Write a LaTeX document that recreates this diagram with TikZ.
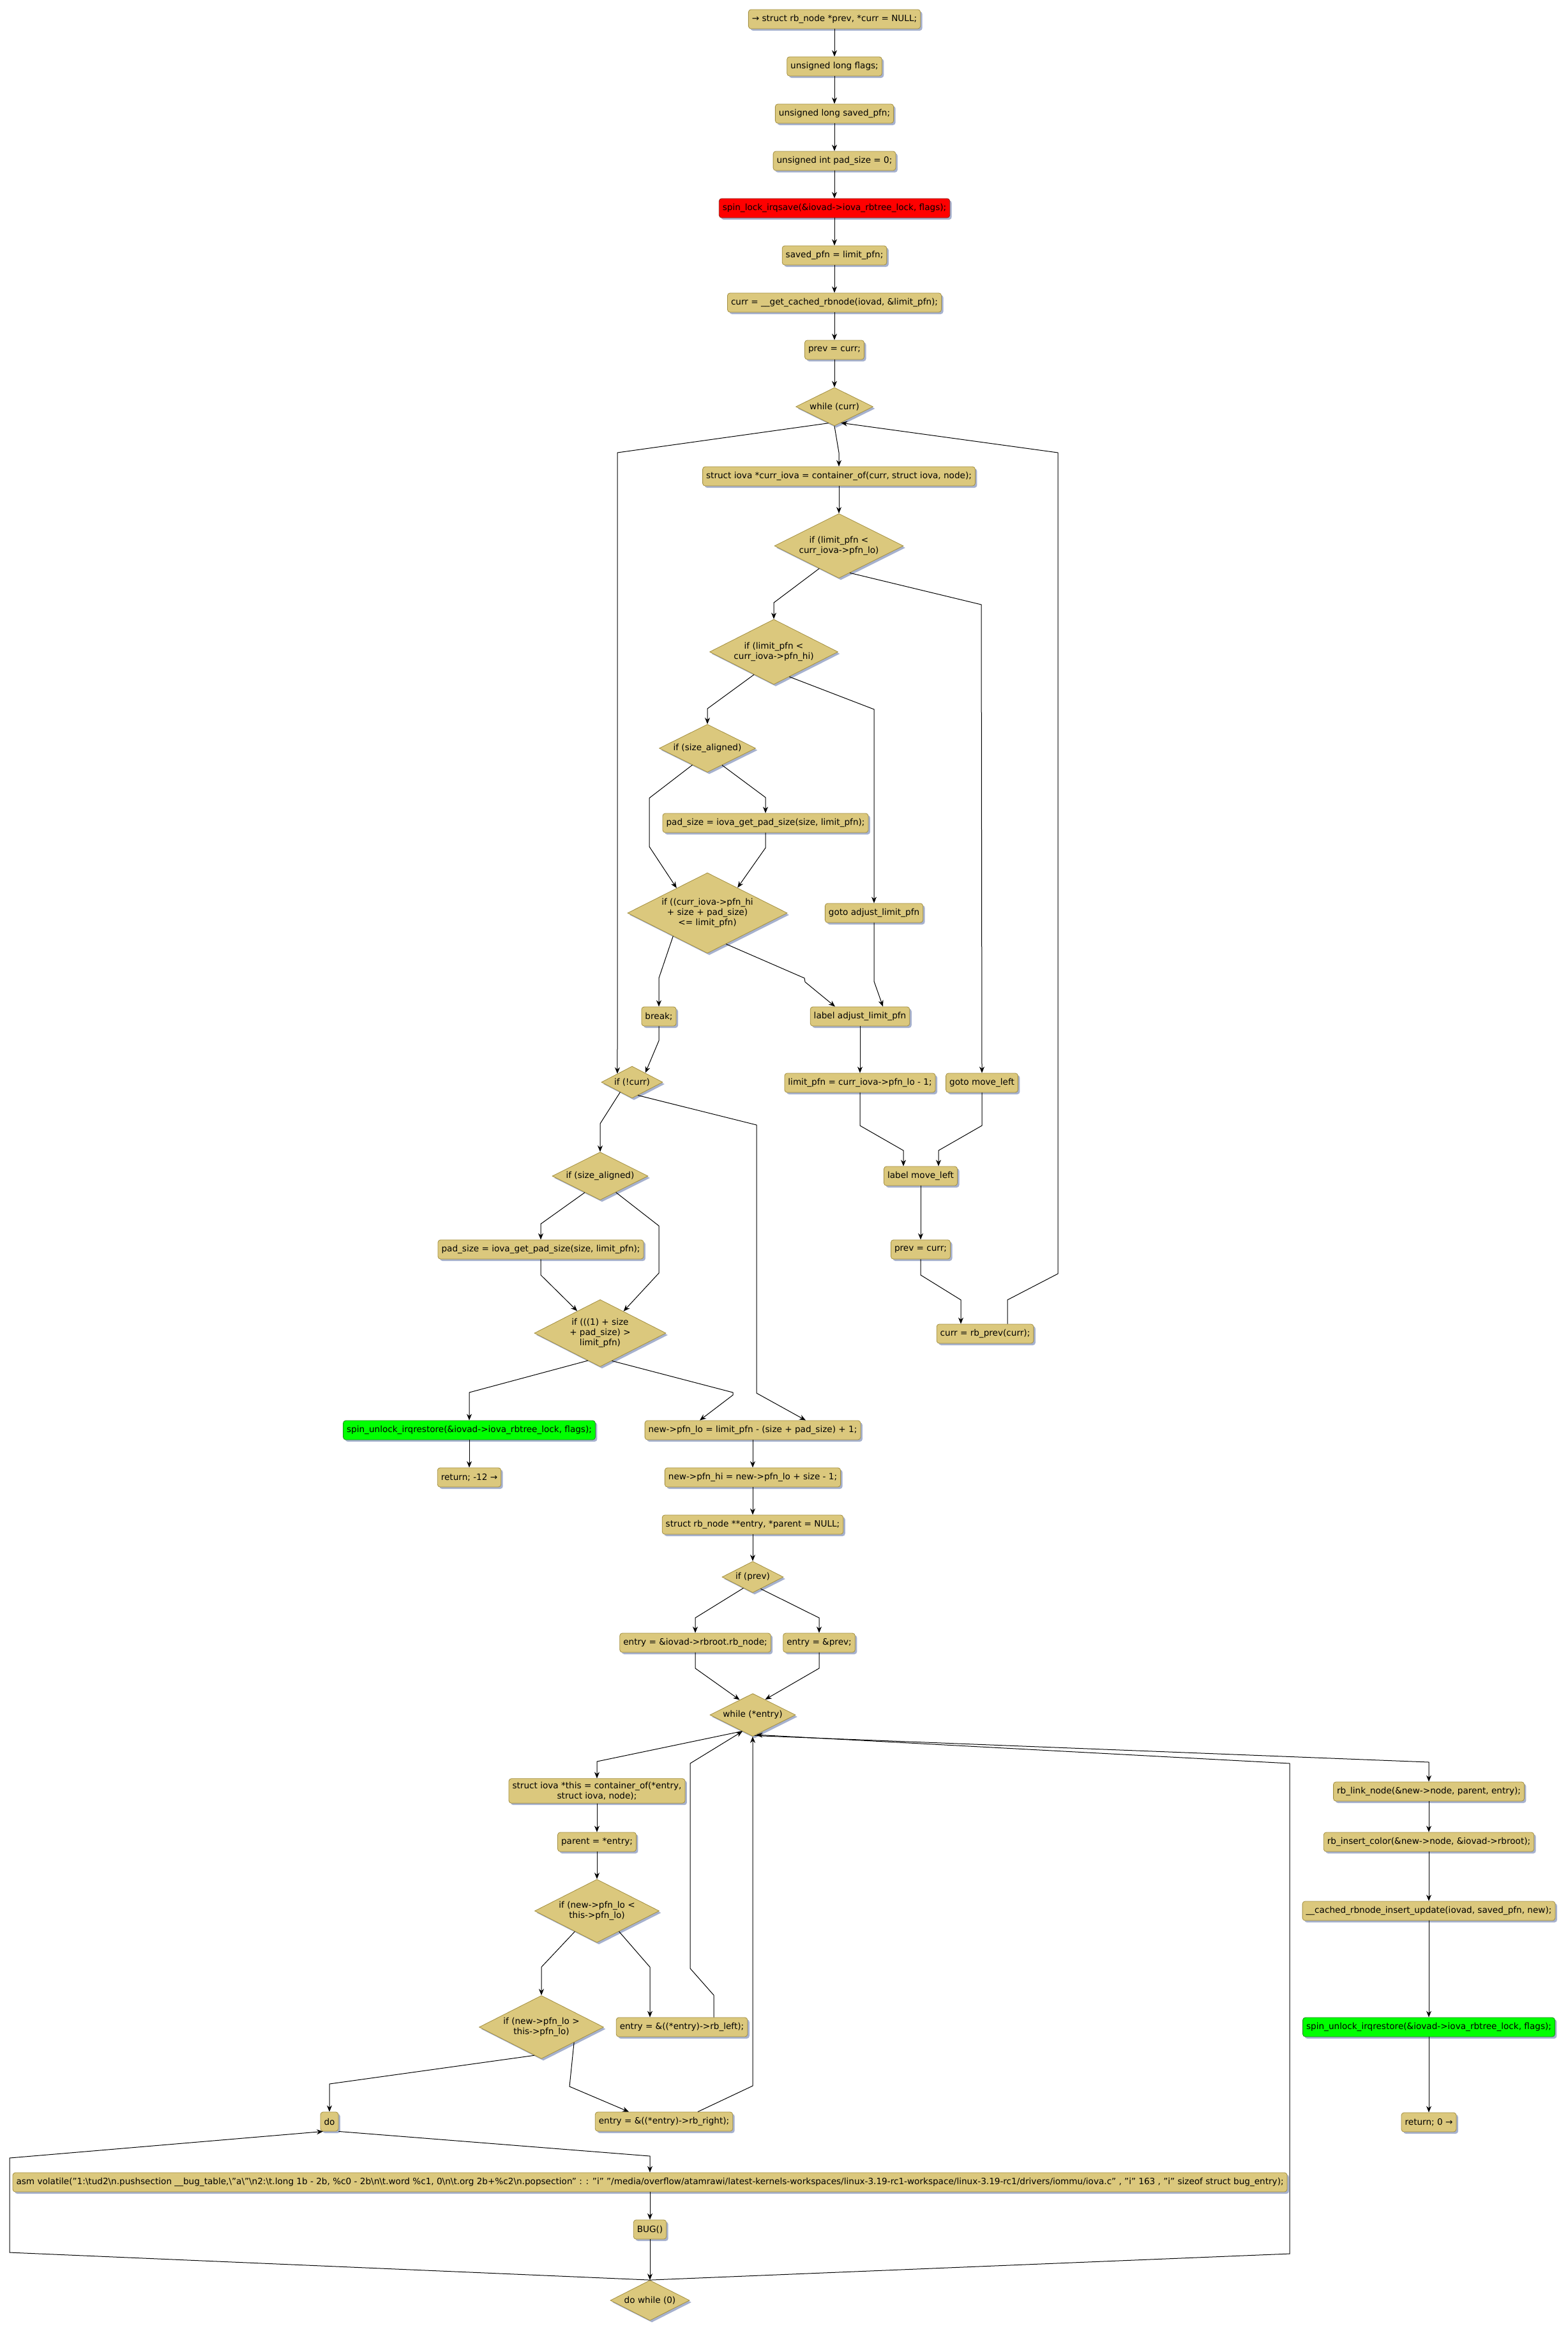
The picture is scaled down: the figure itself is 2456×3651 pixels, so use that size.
\documentclass[tikz,border=0pt]{standalone}
\usepackage{fontspec}
\setmainfont{DejaVu Sans}
\usetikzlibrary{shapes.geometric,arrows.meta,shadows}
\definecolor{boxfill}{RGB}{219,200,125}
\definecolor{boxdraw}{RGB}{163,143,64}
\definecolor{shadowc}{RGB}{166,177,206}
\definecolor{redfill}{RGB}{255,0,0}
\definecolor{reddraw}{RGB}{150,30,20}
\definecolor{greenfill}{RGB}{0,255,0}
\definecolor{greendraw}{RGB}{30,140,30}
\newcommand{\bs}{\textbackslash}
\tikzset{
  shad/.style={drop shadow={shadow xshift=3pt,shadow yshift=-3pt,fill=shadowc,opacity=1}},
  box/.style={rectangle,draw=boxdraw,fill=boxfill,rounded corners=4pt,minimum height=30pt,
    inner xsep=5.5pt,inner ysep=5pt,line width=0.8pt,shad,align=center},
  redbox/.style={box,fill=redfill,draw=reddraw},
  greenbox/.style={box,fill=greenfill,draw=greendraw},
  dia/.style={diamond,draw=boxdraw,fill=boxfill,inner sep=0pt,aspect=2,line width=0.8pt,shad,align=center},
  arr/.style={-{Stealth[length=10pt,width=8pt]},line width=1pt,black},
}
\begin{document}
\begin{tikzpicture}[x=1pt,y=-1pt,font=\fontsize{13.6}{16.3}\selectfont]
\useasboundingbox[fill=white] (0,0) rectangle (2456,3651);

% top chain
\node[box] (n1) at (1307,30) {→ struct rb\_node *prev, *curr = NULL;};
\node[box] (n2) at (1307,104) {unsigned long flags;};
\node[box] (n3) at (1307,178) {unsigned long saved\_pfn;};
\node[box] (n4) at (1307,252) {unsigned int pad\_size = 0;};
\node[redbox] (n5) at (1307,326) {spin\_lock\_irqsave(\&iovad->iova\_rbtree\_lock, flags);};
\node[box] (n6) at (1307,400) {saved\_pfn = limit\_pfn;};
\node[box] (n7) at (1307,474) {curr = \_\_get\_cached\_rbnode(iovad, \&limit\_pfn);};
\node[box] (n8) at (1307,548) {prev = curr;};
\node[dia,minimum width=121pt,minimum height=60pt] (d1) at (1307,637) {while (curr)};
\node[box] (n9) at (1314,746) {struct iova *curr\_iova = container\_of(curr, struct iova, node);};
\node[dia,minimum width=202pt,minimum height=101pt] (d2) at (1314,855) {if (limit\_pfn <\\curr\_iova->pfn\_lo)};
\node[dia,minimum width=201pt,minimum height=102pt] (d3) at (1212,1021) {if (limit\_pfn <\\curr\_iova->pfn\_hi)};
\node[dia,minimum width=151pt,minimum height=75pt] (d4) at (1108,1172) {if (size\_aligned)};
\node[box] (n10) at (1199,1289) {pad\_size = iova\_get\_pad\_size(size, limit\_pfn);};
\node[dia,minimum width=250pt,minimum height=126pt] (d5) at (1108,1430) {if ((curr\_iova->pfn\_hi\\+ size + pad\_size)\\<= limit\_pfn)};
\node[box] (n11) at (1369,1430) {goto adjust\_limit\_pfn};
\node[box] (n12) at (1032,1592) {break;};
\node[box] (n13) at (1347,1592) {label adjust\_limit\_pfn};
\node[dia,minimum width=96pt,minimum height=50pt] (d6) at (990,1695) {if (!curr)};
\node[box] (n14) at (1347,1696) {limit\_pfn = curr\_iova->pfn\_lo - 1;};
\node[box] (n15) at (1538,1696) {goto move\_left};
\node[dia,minimum width=150pt,minimum height=75pt] (d7) at (940,1842) {if (size\_aligned)};
\node[box] (n16) at (1442,1842) {label move\_left};
\node[box] (n17) at (847,1957) {pad\_size = iova\_get\_pad\_size(size, limit\_pfn);};
\node[box] (n18) at (1442,1957) {prev = curr;};
\node[dia,minimum width=206pt,minimum height=105pt] (d8) at (940,2088) {if (((1) + size\\+ pad\_size) >\\limit\_pfn)};
\node[box] (n19) at (1543,2089) {curr = rb\_prev(curr);};
\node[greenbox] (n20) at (735,2240) {spin\_unlock\_irqrestore(\&iovad->iova\_rbtree\_lock, flags);};
\node[box] (n21) at (1179,2240) {new->pfn\_lo = limit\_pfn - (size + pad\_size) + 1;};
\node[box] (n22) at (735,2314) {return; -12 →};
\node[box] (n23) at (1179,2314) {new->pfn\_hi = new->pfn\_lo + size - 1;};
\node[box] (n24) at (1179,2388) {struct rb\_node **entry, *parent = NULL;};
\node[dia,minimum width=96pt,minimum height=49pt] (d9) at (1179,2470) {if (prev)};
\node[box] (n25) at (1089,2573) {entry = \&iovad->rbroot.rb\_node;};
\node[box] (n26) at (1283,2573) {entry = \&prev;};
\node[dia,minimum width=134pt,minimum height=67pt] (d10) at (1179,2686) {while (*entry)};
\node[box] (n27) at (935,2805) {struct iova *this = container\_of(*entry,\\struct iova, node);};
\node[box] (n28) at (935,2885) {parent = *entry;};
\node[dia,minimum width=195pt,minimum height=99pt] (d11) at (935,2993) {if (new->pfn\_lo <\\this->pfn\_lo)};
\node[dia,minimum width=195pt,minimum height=99pt] (d12) at (848,3175) {if (new->pfn\_lo >\\this->pfn\_lo)};
\node[box] (n34) at (1068,3175) {entry = \&((*entry)->rb\_left);};
\node[box] (n35) at (516,3323) {do};
\node[box] (n36) at (1040,3323) {entry = \&((*entry)->rb\_right);};
\node[box] (n37) at (1018,3418) {asm volatile("1:\bs tud2\bs n.pushsection \_\_bug\_table,\bs"a\bs"\bs n2:\bs t.long 1b - 2b, \%c0 - 2b\bs n\bs t.word \%c1, 0\bs n\bs t.org 2b+\%c2\bs n.popsection" : : "i" "/media/overflow/atamrawi/latest-kernels-workspaces/linux-3.19-rc1-workspace/linux-3.19-rc1/drivers/iommu/iova.c" , "i" 163 , "i" sizeof struct bug\_entry);};
\node[box] (n38) at (1018,3492) {BUG()};
\node[dia,minimum width=124pt,minimum height=63pt] (d13) at (1018,3603) {do while (0)};
\node[box] (n29) at (2238,2806) {rb\_link\_node(\&new->node, parent, entry);};
\node[box] (n30) at (2238,2885) {rb\_insert\_color(\&new->node, \&iovad->rbroot);};
\node[box] (n31) at (2238,2993) {\_\_cached\_rbnode\_insert\_update(iovad, saved\_pfn, new);};
\node[greenbox] (n32) at (2238,3175) {spin\_unlock\_irqrestore(\&iovad->iova\_rbtree\_lock, flags);};
\node[box] (n33) at (2238,3324) {return; 0 →};

% straight edges
\draw[arr] (n1.south) -- (n2.north);
\draw[arr] (n2.south) -- (n3.north);
\draw[arr] (n3.south) -- (n4.north);
\draw[arr] (n4.south) -- (n5.north);
\draw[arr] (n5.south) -- (n6.north);
\draw[arr] (n6.south) -- (n7.north);
\draw[arr] (n7.south) -- (n8.north);
\draw[arr] (n8.south) -- (d1.north);
\draw[arr] (n9.south) -- (d2.north);
\draw[arr] (n13.south) -- (n14.north);
\draw[arr] (n16.south) -- (n18.north);
\draw[arr] (n20.south) -- (n22.north);
\draw[arr] (n21.south) -- (n23.north);
\draw[arr] (n23.south) -- (n24.north);
\draw[arr] (n24.south) -- (d9.north);
\draw[arr] (n27.south) -- (n28.north);
\draw[arr] (n28.south) -- (d11.north);
\draw[arr] (n29.south) -- (n30.north);
\draw[arr] (n30.south) -- (n31.north);
\draw[arr] (n31.south) -- (n32.north);
\draw[arr] (n32.south) -- (n33.north);
\draw[arr] (n37.south) -- (n38.north);
\draw[arr] (n38.south) -- (d13.north);

% while (curr)
\draw[arr] (d1.south) -- (1314,709) -- (n9.north);
\draw[arr] (d1.250) -- (967,709) -- (967,1630) -- (d6.150);
\draw[arr] ([xshift=35pt]n19.north) -- (1578,2036) -- (1657,1995) -- (1657,709) -- (d1.292);
% if limit < lo
\draw[arr] (d2.229) -- (1212,944) -- (d3.north);
\draw[arr] (d2.292) -- (1537,947) -- (n15.north);
% if limit < hi
\draw[arr] (d3.229) -- (1108,1110) -- (d4.north);
\draw[arr] (d3.302) -- (1369,1111) -- (n11.north);
% size aligned 1
\draw[arr] (d4.228) -- (1017,1250) -- (1017,1326) -- (d5.141);
\draw[arr] (d4.311) -- (1199,1249) -- (n10.north);
\draw[arr] (n10.south) -- (1199,1328) -- (d5.40);
% d5
\draw[arr] (d5.214) -- (1032,1532) -- (n12.north);
\draw[arr] (d5.301) -- (1260,1532) -- (1261,1538) -- ([xshift=-39pt]n13.north);
\draw[arr] (n11.south) -- (1369,1537) -- ([xshift=36pt]n13.north);
\draw[arr] (n12.south) -- (1032,1630) -- (d6.35);
% if (!curr)
\draw[arr] (d6.220) -- (940,1760) -- (d7.north);
\draw[arr] (d6.294) -- (1185,1762) -- (1185,2182) -- ([xshift=83pt]n21.north);
% move_left
\draw[arr] (n14.south) -- (1347,1763) -- (1415,1802) -- ([xshift=-27pt]n16.north);
\draw[arr] (n15.south) -- (1538,1763) -- (1470,1802) -- ([xshift=28pt]n16.north);
\draw[arr] (n18.south) -- (1442,1997) -- (1505,2036) -- ([xshift=-38pt]n19.north);
% size aligned 2
\draw[arr] (d7.227) -- (847,1917) -- (n17.north);
\draw[arr] (d7.314) -- (1032,1920) -- (1032,1994) -- (d8.43);
\draw[arr] (n17.south) -- (847,1997) -- (d8.136);
% d8
\draw[arr] (d8.246) -- (735,2181) -- (n20.north);
\draw[arr] (d8.293) -- (1148,2181) -- (1148,2185) -- ([xshift=-83pt]n21.north);
% if (prev)
\draw[arr] (d9.230) -- (1089,2534) -- (n25.north);
\draw[arr] (d9.304) -- (1283,2534) -- (n26.north);
\draw[arr] (n25.south) -- (1089,2613) -- (d10.131);
\draw[arr] (n26.south) -- (1283,2613) -- (d10.51);
% while (*entry)
\draw[arr] (d10.237) -- (935,2759) -- (n27.north);
\draw[arr] (d10.275) -- (2238,2760) -- (n29.north);
\draw[arr] (d11.223) -- (848,3081) -- (d12.north);
\draw[arr] (d11.317) -- (1018,3081) -- ([xshift=-50pt]n34.north);
\draw[arr] ([xshift=50pt]n34.north) -- (1118,3125) -- (1081,3083) -- (1081,2762) -- (d10.238);
\draw[arr] (d12.256) -- (516,3264) -- (n35.north);
\draw[arr] (d12.335) -- (892,3268) -- ([xshift=-55pt]n36.north);
\draw[arr] ([xshift=53pt]n36.north) -- (1179,3267) -- (d10.south);
% do loop
\draw[arr] (n35.south east) -- (1018,3377) -- (n37.north);
\draw[arr] (d13.north) -- (15,3528) -- (15,3380) -- ([xshift=-10pt]n35.south);
\draw[arr] (d13.north) -- (2020,3530) -- (2020,2762) -- (d10.280);
\end{tikzpicture}
\end{document}
